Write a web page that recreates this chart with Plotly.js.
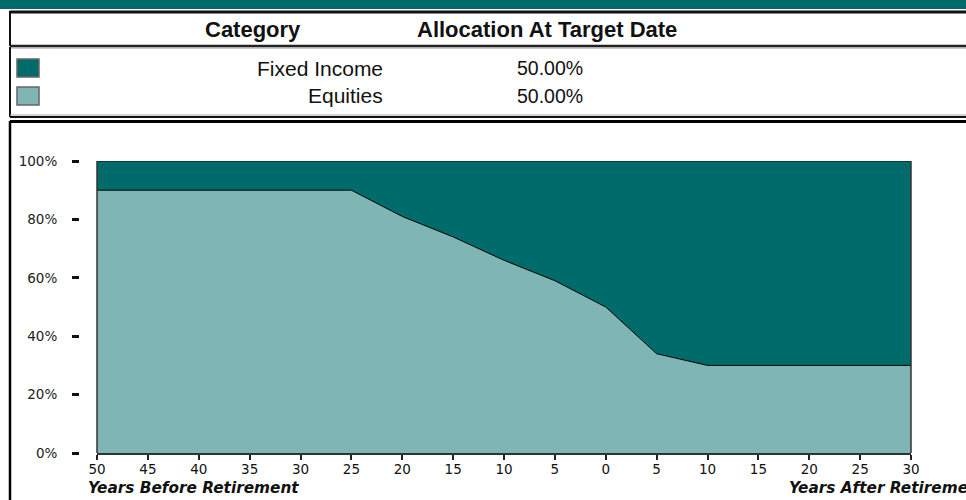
<!DOCTYPE html>
<html>
<head>
<meta charset="utf-8">
<script src="https://cdn.plot.ly/plotly-3.0.1.min.js"></script>
<style>
  html, body { margin: 0; padding: 0; background: #fff; }
  #chart { width: 966px; height: 500px; }
</style>
</head>
<body>
<div id="chart"></div>
<script>
// ---- data ----
const yearLabels = ['50','45','40','35','30','25','20','15','10','5','0','5','10','15','20','25','30'];
const equities    = [90, 90, 90, 90, 90, 90, 81, 74, 66, 59, 50, 34, 30, 30, 30, 30, 30];
const fixedIncome = [10, 10, 10, 10, 10, 10, 19, 26, 34, 41, 50, 66, 70, 70, 70, 70, 70];
const categories  = ['Fixed Income', 'Equities'];
const allocations = ['50.00%', '50.00%'];
const yTicks      = [0, 20, 40, 60, 80, 100];
const yTickLabels = ['0%', '20%', '40%', '60%', '80%', '100%'];

// ---- styles ----
const DARK = '#006B6B';
const LIGHT = '#80B5B5';
const W = 966, H = 500;
const px = x => x / W;
const py = y => 1 - y / H;

const xIdx = yearLabels.map((_, i) => i);

const traces = [
  {
    x: xIdx, y: equities, name: 'Equities', type: 'scatter', mode: 'lines',
    stackgroup: 'one', fillcolor: LIGHT, line: { color: '#000', width: 1 },
    hoverinfo: 'skip'
  },
  {
    x: xIdx, y: fixedIncome, name: 'Fixed Income', type: 'scatter', mode: 'lines',
    stackgroup: 'one', fillcolor: DARK, line: { color: '#1a2a2a', width: 1.5 },
    hoverinfo: 'skip'
  }
];

const shapes = [
  // top teal band
  { type: 'rect', xref: 'paper', yref: 'paper', x0: 0, x1: 1, y0: py(0), y1: py(9), fillcolor: DARK, line: { width: 0 }, layer: 'below' },
  // header frame
  { type: 'line', xref: 'paper', yref: 'paper', x0: px(10), x1: 1, y0: py(12), y1: py(12), line: { color: '#111', width: 3 } },
  { type: 'line', xref: 'paper', yref: 'paper', x0: px(10), x1: 1, y0: py(46), y1: py(46), line: { color: '#222', width: 2.5 } },
  { type: 'line', xref: 'paper', yref: 'paper', x0: px(10), x1: 1, y0: py(48), y1: py(48), line: { color: '#999', width: 1 } },
  { type: 'line', xref: 'paper', yref: 'paper', x0: px(10), x1: px(10), y0: py(11), y1: py(46), line: { color: '#111', width: 2 } },
  // legend frame
  { type: 'line', xref: 'paper', yref: 'paper', x0: px(10), x1: px(10), y0: py(47), y1: py(117), line: { color: '#111', width: 2 } },
  { type: 'line', xref: 'paper', yref: 'paper', x0: px(10), x1: 1, y0: py(115), y1: py(115), line: { color: '#aaa', width: 1 } },
  { type: 'line', xref: 'paper', yref: 'paper', x0: px(10), x1: 1, y0: py(117), y1: py(117), line: { color: '#111', width: 2 } },
  // chart frame
  { type: 'line', xref: 'paper', yref: 'paper', x0: px(10), x1: 1, y0: py(121.5), y1: py(121.5), line: { color: '#000', width: 3 } },
  { type: 'line', xref: 'paper', yref: 'paper', x0: px(10), x1: px(10), y0: py(121), y1: 0, line: { color: '#000', width: 2.5 } },
  // plot area side edges
  { type: 'line', xref: 'x domain', yref: 'y domain', x0: 0, x1: 0, y0: 0, y1: 1, line: { color: '#333', width: 1.5 } },
  { type: 'line', xref: 'x domain', yref: 'y domain', x0: 1, x1: 1, y0: 0, y1: 1, line: { color: '#333', width: 1.5 } }
];

// legend swatches
const swatchColors = [DARK, LIGHT];
const rowY = [68, 96];
categories.forEach((c, i) => {
  shapes.push({
    type: 'rect', xref: 'paper', yref: 'paper',
    x0: px(17), x1: px(39), y0: py(rowY[i] - 9), y1: py(rowY[i] + 9),
    fillcolor: swatchColors[i], line: { color: '#666', width: 1.5 }
  });
});

const labelFont = { family: 'Liberation Sans, Arial, sans-serif', size: 21, color: '#111' };
const valueFont = { family: 'Liberation Sans, Arial, sans-serif', size: 19.5, color: '#111' };
const boldFont = { family: 'Liberation Sans, Arial, sans-serif', size: 22, color: '#111', weight: 'bold' };
const titleFont = { family: 'DejaVu Sans, sans-serif', size: 15.3, color: '#111', weight: 'bold', style: 'italic' };

const annotations = [
  { text: '<b>Category</b>', xref: 'paper', yref: 'paper', x: px(253), y: py(29), xanchor: 'center', yanchor: 'middle', showarrow: false, font: boldFont },
  { text: '<b>Allocation At Target Date</b>', xref: 'paper', yref: 'paper', x: px(415), y: py(29), xanchor: 'left', yanchor: 'middle', showarrow: false, font: boldFont },
  { text: '<b><i>Years Before Retirement</i></b>', xref: 'paper', yref: 'paper', x: px(86), y: py(487.5), xanchor: 'left', yanchor: 'middle', showarrow: false, font: titleFont },
  { text: '<b><i>Years After Retirement</i></b>', xref: 'paper', yref: 'paper', x: px(787), y: py(487.5), xanchor: 'left', yanchor: 'middle', showarrow: false, font: titleFont }
];
categories.forEach((c, i) => {
  annotations.push({ text: c, xref: 'paper', yref: 'paper', x: px(385), y: py(rowY[i]), xanchor: 'right', yanchor: 'middle', showarrow: false, font: labelFont });
  annotations.push({ text: allocations[i], xref: 'paper', yref: 'paper', x: px(515), y: py(rowY[i]), xanchor: 'left', yanchor: 'middle', showarrow: false, font: valueFont });
});

const layout = {
  width: W, height: H,
  margin: { l: 0, r: 0, t: 0, b: 0 },
  paper_bgcolor: '#fff', plot_bgcolor: '#fff',
  showlegend: false,
  hovermode: false,
  xaxis: {
    domain: [px(97), px(911)],
    range: [0, xIdx.length - 1],
    tickvals: xIdx, ticktext: yearLabels,
    ticks: 'outside', ticklen: 5, tickwidth: 2, tickcolor: '#222',
    ticklabelstandoff: -2,
    showline: true, linecolor: '#2a3535', linewidth: 2,
    showgrid: false, zeroline: false,
    tickfont: { family: 'DejaVu Sans, sans-serif', size: 13.5, color: '#111' }
  },
  yaxis: {
    domain: [py(453), py(161)],
    range: [0, 100],
    anchor: 'free', position: px(79),
    tickvals: yTicks, ticktext: yTickLabels,
    ticks: 'outside', ticklen: 7, tickwidth: 3, tickcolor: '#111',
    ticklabelstandoff: 12,
    showline: false, showgrid: false, zeroline: false,
    tickfont: { family: 'DejaVu Sans, sans-serif', size: 13.5, color: '#222' }
  },
  shapes: shapes,
  annotations: annotations
};

Plotly.newPlot('chart', traces, layout, { displayModeBar: false, staticPlot: true });
</script>
</body>
</html>
